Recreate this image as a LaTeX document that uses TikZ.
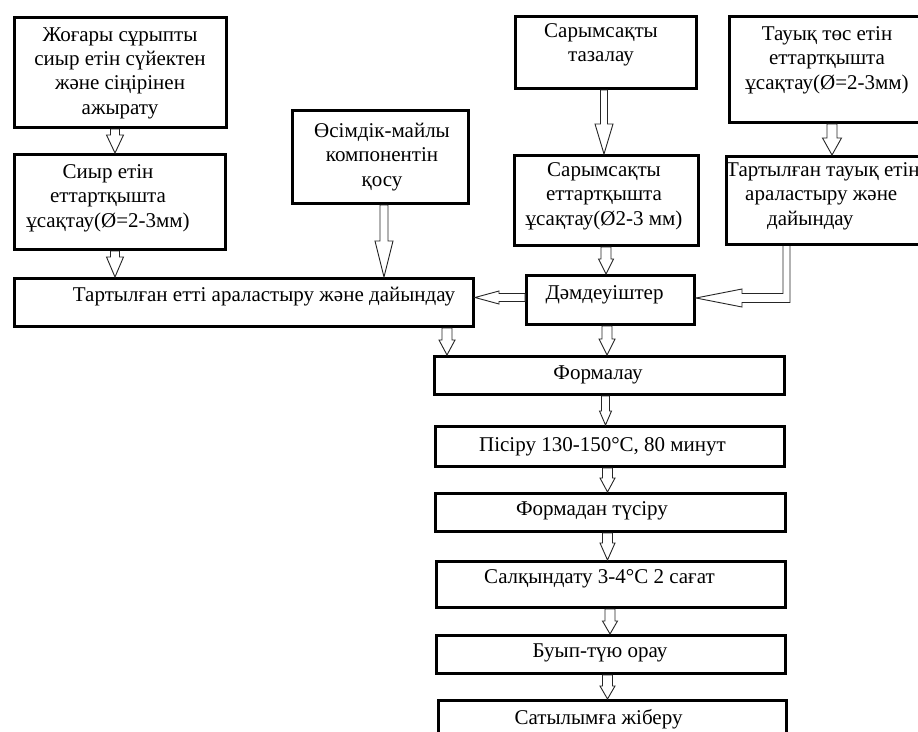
\documentclass[tikz,border=0pt]{standalone}
\usepackage{fontspec}
\setmainfont{Liberation Serif}
\usetikzlibrary{calc}
\tikzset{
  box/.style={draw=black, line width=3pt, fill=white, rectangle, inner sep=0pt, anchor=north west},
  txt/.style={inner sep=0pt, align=center, font=\fontsize{21}{24.4}\selectfont},
  arr/.style={draw=black!85, line width=0.9pt, fill=white, line join=miter},
}
\newcommand\blkarrow[5]{%
  \coordinate (ba-s) at (#1);
  \coordinate (ba-e) at (#2);
  \coordinate (ba-h) at ($(ba-e)!#5!(ba-s)$);
  \draw[arr] ($(ba-s)!#3!90:(ba-e)$) -- ($(ba-h)!#3!-90:(ba-s)$) -- ($(ba-h)!#4!-90:(ba-s)$) -- (ba-e) -- ($(ba-h)!#4!90:(ba-s)$) -- ($(ba-h)!#3!90:(ba-s)$) -- ($(ba-s)!#3!-90:(ba-e)$) -- cycle;
}
\begin{document}
\begin{tikzpicture}[x=1pt, y=-1pt]
\useasboundingbox (0,0) rectangle (918,731);
\fill[white] (0,0) rectangle (918,731);

% boxes
\node[box, minimum width=212pt, minimum height=110pt] (A) at (13,16) {};
\node[box, minimum width=211pt, minimum height=95pt] (B) at (13,153) {};
\node[box, minimum width=176pt, minimum height=93pt] (C) at (291,109) {};
\node[box, minimum width=459pt, minimum height=48pt] (D) at (13,277) {};
\node[box, minimum width=181pt, minimum height=72pt] (E) at (514,15) {};
\node[box, minimum width=210pt, minimum height=106pt] (F) at (728,15) {};
\node[box, minimum width=184pt, minimum height=90pt] (G) at (513,154) {};
\node[box, minimum width=213pt, minimum height=88pt] (H) at (725,155) {};
\node[box, minimum width=168pt, minimum height=49pt] (I) at (525,274) {};
\node[box, minimum width=350pt, minimum height=38pt] (J) at (433,355) {};
\node[box, minimum width=349pt, minimum height=40pt] (K) at (434,425) {};
\node[box, minimum width=350pt, minimum height=38pt] (L) at (434,492) {};
\node[box, minimum width=349pt, minimum height=46pt] (M) at (435,560) {};
\node[box, minimum width=349pt, minimum height=38pt] (N) at (435,634) {};
\node[box, minimum width=348pt, minimum height=61pt] (O) at (437,699) {};

% texts
\node[txt] (At) at (120,73) {Жоғары сұрыпты\\сиыр етін сүйектен\\және сіңірінен\\ажырату};
\node[txt] (Bt) at (108,198) {Сиыр етін\\еттартқышта\\ұсақтау(Ø=2-3мм)};
\node[txt] (Ct) at (382,157) {Өсімдік-майлы\\компонентін\\қосу};
\node[txt] (Dt) at (264,297) {Тартылған етті араластыру және дайындау};
\node[txt] (Et) at (601,45) {Сарымсақты\\тазалау};
\node[txt] (Ft) at (827,60) {Тауық төс етін\\еттартқышта\\ұсақтау(Ø=2-3мм)};
\node[txt] (Gt) at (604,196) {Сарымсақты\\еттартқышта\\ұсақтау(Ø2-3 мм)};
\node[txt, align=left, anchor=west] (Ht) at (726,196) {Тартылған тауық етін\\\hspace*{19pt}араластыру және\\\hspace*{41pt}дайындау};
\node[txt] (It) at (604.5,295) {Дәмдеуіштер};
\node[txt] (Jt) at (598,375) {Формалау};
\node[txt] (Kt) at (602.5,447) {Пісіру 130-150°C, 80 минут};
\node[txt] (Lt) at (592,511) {Формадан түсіру};
\node[txt] (Mt) at (599.5,579) {Салқындату 3-4°C 2 сағат};
\node[txt] (Nt) at (600,653) {Буып-түю орау};
\node[txt] (Ot) at (598.5,719) {Сатылымға жіберу};

% arrow x positions
\coordinate (xa) at (115,0);
\coordinate (xc) at (384,0);
\coordinate (xe) at (604,0);
\coordinate (xf) at (832,0);
\coordinate (xg) at (606,0);
\coordinate (xd) at (447,0);
\coordinate (xi) at (607,0);
\coordinate (x1) at (605.5,0);
\coordinate (x2) at (607.5,0);
\coordinate (x3) at (607.5,0);
\coordinate (x4) at (610,0);
\coordinate (x5) at (607.5,0);
\coordinate (yid) at (0,297.5);

% straight block arrows
\blkarrow{A.south -| xa}{B.north -| xa}{4.5pt}{8.5pt}{18pt}
\blkarrow{B.south -| xa}{D.north -| xa}{4.5pt}{8.5pt}{20pt}
\blkarrow{C.south -| xc}{D.north -| xc}{4pt}{9pt}{36pt}
\blkarrow{E.south -| xe}{G.north -| xe}{3.5pt}{9pt}{30pt}
\blkarrow{F.south -| xf}{H.north -| xf}{5pt}{9.5pt}{17pt}
\blkarrow{G.south -| xg}{I.north -| xg}{5pt}{7.5pt}{15pt}
\blkarrow{I.west |- yid}{D.east |- yid}{4pt}{6.5pt}{24pt}
\blkarrow{D.south -| xd}{J.north -| xd}{5pt}{8pt}{15pt}
\blkarrow{I.south -| xi}{J.north -| xi}{5pt}{8pt}{16pt}
\blkarrow{J.south -| x1}{K.north -| x1}{4pt}{6pt}{14pt}
\blkarrow{K.south -| x2}{L.north -| x2}{5pt}{7.5pt}{14pt}
\blkarrow{L.south -| x3}{M.north -| x3}{5pt}{7.5pt}{17pt}
\blkarrow{M.south -| x4}{N.north -| x4}{5pt}{7.5pt}{13pt}
\blkarrow{N.south -| x5}{O.north -| x5}{5pt}{7.5pt}{13pt}

% elbow arrow H -> I
\coordinate (T) at ($(I.east)+(0,-2)$);
\coordinate (hx1) at ($(T)+(87,-4.5)$);
\coordinate (hx2) at ($(T)+(94,4.5)$);
\draw[arr] (H.south -| hx1) -- (hx1) -- ($(T)+(46,-4.5)$) -- ($(T)+(46,-9)$) -- (T)
  -- ($(T)+(46,9)$) -- ($(T)+(46,4.5)$) -- (hx2) -- (H.south -| hx2);
\end{tikzpicture}
\end{document}
